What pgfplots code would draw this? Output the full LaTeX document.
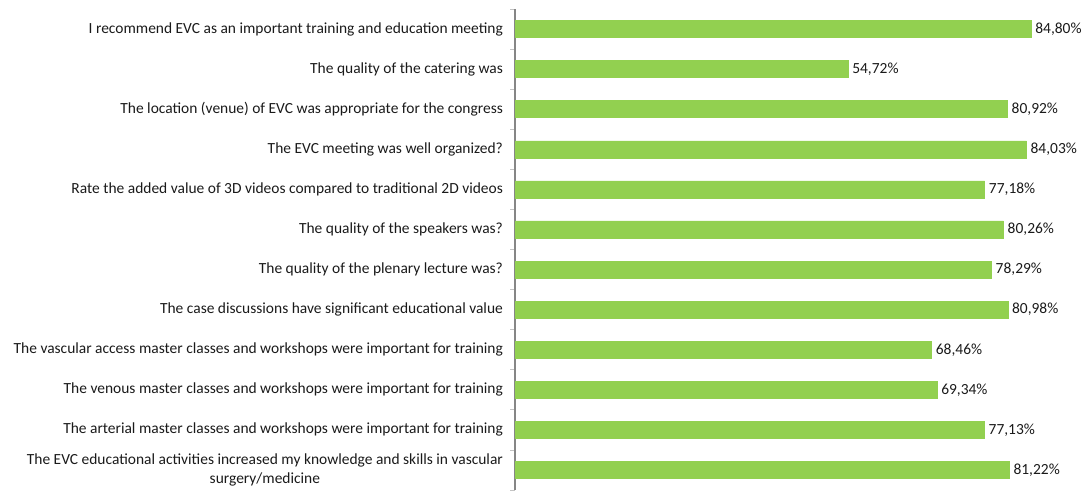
\documentclass[border=0pt]{standalone}
\usepackage{pgfplots}
\pgfplotsset{compat=1.18}
\usepackage{fontspec}
\setmainfont{Carlito}
\definecolor{bargreen}{HTML}{92D050}
\definecolor{axgray}{HTML}{868686}
\definecolor{txt}{HTML}{1A1A1A}
\newcommand{\lbl}{\fontsize{11.6}{14.2}\selectfont}
\begin{document}
\lbl
\begin{tikzpicture}
\useasboundingbox (0,0) rectangle (813pt,367.5pt);
\begin{axis}[
  at={(386.25pt,0pt)}, anchor=south west,
  scale only axis,
  width=426.75pt, height=360.75pt,
  xbar, bar width=12.75pt,
  xmin=0, xmax=93.5,
  ymin=-0.5, ymax=11.5, y dir=reverse,
  axis x line=none,
  axis y line*=left,
  y axis line style={draw=axgray, line width=0.8pt, -},
  ytick={0,...,11},
  yticklabels={
    I recommend EVC as an important training and education meeting,
    The quality of the catering was,
    The location (venue) of EVC was appropriate for the congress,
    The EVC meeting was well organized?,
    Rate the added value of 3D videos compared to traditional 2D videos,
    The quality of the speakers was?,
    The quality of the plenary lecture was?,
    The case discussions have significant educational value,
    The vascular access master classes and workshops were important for training,
    The venous master classes and workshops were important for training,
    The arterial master classes and workshops were important for training,
    {The EVC educational activities increased my knowledge and skills in vascular\\surgery/medicine}
  },
  minor ytick={-0.5,0.5,...,11.5},
  major tick length=0pt,
  minor tick length=3.75pt,
  tick align=outside,
  minor tick style={draw=axgray!50, line width=0.6pt},
  yticklabel style={align=center, text=txt, xshift=-5pt, font=\lbl},
  /pgf/number format/assume math mode=true,
  nodes near coords={\pgfmathprintnumber[fixed,fixed zerofill,precision=2,use comma]{\pgfplotspointmeta}\%},
  nodes near coords style={text=txt, font=\lbl, inner sep=3pt},
  clip=false,
]
\addplot[draw=bargreen, fill=bargreen] coordinates {
  (84.80,0) (54.72,1) (80.92,2) (84.03,3) (77.18,4) (80.26,5)
  (78.29,6) (80.98,7) (68.46,8) (69.34,9) (77.13,10) (81.22,11)
};
\end{axis}
\end{tikzpicture}
\end{document}
